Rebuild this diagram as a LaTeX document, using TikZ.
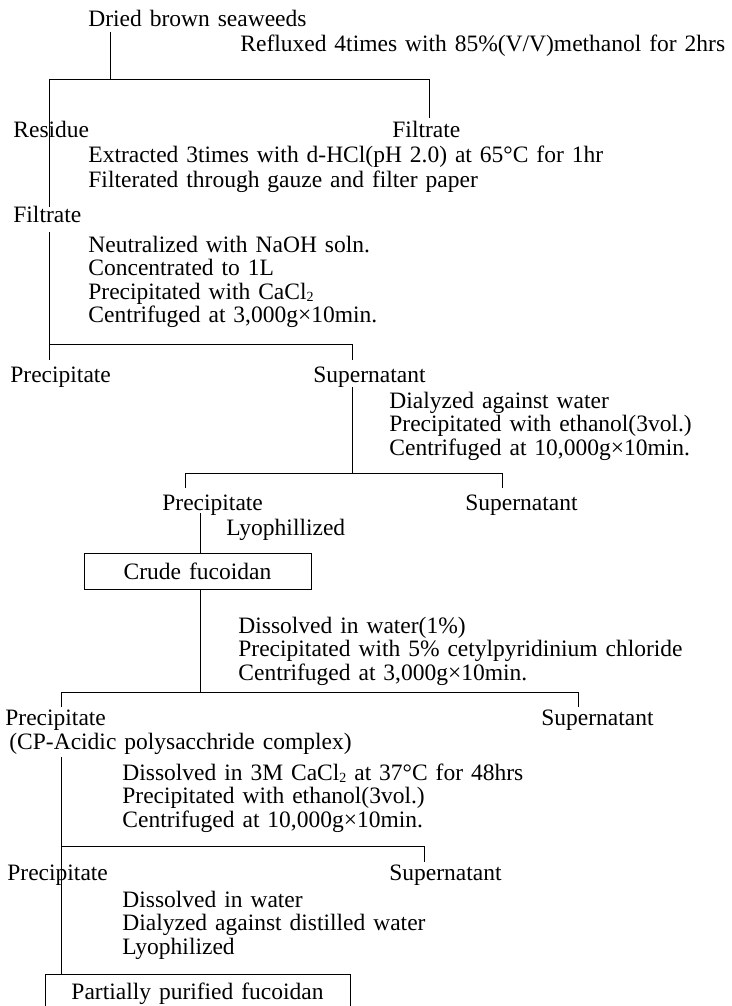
\documentclass[tikz,border=0pt]{standalone}
\usepackage{fontspec}
\setmainfont{Liberation Serif}[WordSpace=1.35]
\newcommand{\lowtwo}{\raisebox{-.25ex}{\fontsize{14}{14}\selectfont 2}}
\begin{document}
\begin{tikzpicture}[x=1pt, y=-1pt, line width=.8pt,
        every node/.style={inner sep=0pt, font=\fontsize{23.5}{23.5}\selectfont},
        txt/.style={anchor=base west},
        fbox/.style={draw, line width=.8pt, minimum width=227pt, minimum height=36pt}]
    \useasboundingbox (0, 0) rectangle (731, 1006);
    \clip (0, 0) rectangle (731, 1006);
    \node[txt] (dried) at (88, 27) {Dried brown seaweeds};
    \node[txt] (reflux) at (240, 52) {Refluxed 4times with 85\%(V/V)methanol for 2hrs};
    \node[txt] (residue) at (13, 138) {Residue};
    \node[txt] (filtA) at (392, 138) {Filtrate};
    \coordinate (topA) at (110, 32);
    \coordinate (midA) at (110, 79);
    \coordinate (lA) at (49, 79);
    \coordinate (rA) at (429, 79);
    \draw (topA) -- (midA);
    \draw (lA) -- (rA) -- (429, 118);
    \draw (lA) -- (49, 207);
    \foreach \t [count=\i] in {{Extracted 3times with d-HCl(pH 2.0) at 65°C for 1hr},
            {Filterated through gauze and filter paper}}
        \node[txt] (a-\i) at (88, {138+24.5*\i}) {\t};
    \node[txt] (filtB) at (13, 222) {Filtrate};
    \foreach \t [count=\i] in {{Neutralized with NaOH soln.}, {Concentrated to 1L},
            {Precipitated with CaCl\lowtwo}, {Centrifuged at 3,000g×10min.}}
        \node[txt] (b-\i) at (88, {228.5+23.6*\i}) {\t};
    \coordinate (lB) at (49, 344);
    \coordinate (rB) at (352, 344);
    \draw (49, 232) -- (lB) -- (rB) -- (352, 360);
    \draw (lB) -- (49, 360);
    \node[txt] (precA) at (10, 382) {Precipitate};
    \node[txt] (supA) at (313, 382) {Supernatant};
    \foreach \t [count=\i] in {{Dialyzed against water}, {Precipitated with ethanol(3vol.)},
            {Centrifuged at 10,000g×10min.}}
        \node[txt] (c-\i) at (389, {384.5+23.5*\i}) {\t};
    \coordinate (mC) at (352, 473);
    \coordinate (lC) at (185, 473);
    \coordinate (rC) at (502, 473);
    \draw (352, 387) -- (mC);
    \draw (185, 488) -- (lC) -- (rC) -- (502, 488);
    \node[txt] (precB) at (162, 510) {Precipitate};
    \node[txt] (supB) at (465, 510) {Supernatant};
    \node[txt] (lyoA) at (226, 535) {Lyophillized};
    \node[fbox] (crude) at (197.5, 571) {Crude fucoidan};
    \draw (200, 513) -- (crude.north -| 200, 0);
    \foreach \t [count=\i] in {{Dissolved in water(1\%)}, {Precipitated with 5\% cetylpyridinium chloride},
            {Centrifuged at 3,000g×10min.}}
        \node[txt] (d-\i) at (238, {609.5+23.5*\i}) {\t};
    \coordinate (mD) at (200, 692);
    \coordinate (lD) at (61, 692);
    \coordinate (rD) at (578, 692);
    \draw (crude.south -| mD) -- (mD);
    \draw (61, 707) -- (lD) -- (rD) -- (578, 707);
    \node[txt] (precC) at (5, 725) {Precipitate};
    \node[txt] (supC) at (541, 725) {Supernatant};
    \node[txt] (cp) at (9, 749) {(CP-Acidic polysacchride complex)};
    \foreach \t [count=\i] in {{Dissolved in 3M CaCl\lowtwo{} at 37°C for 48hrs},
            {Precipitated with ethanol(3vol.)}, {Centrifuged at 10,000g×10min.}}
        \node[txt] (e-\i) at (122, {756.5+23.5*\i}) {\t};
    \coordinate (lE) at (61, 846);
    \coordinate (rE) at (424, 846);
    \draw (61, 757) -- (lE) -- (rE) -- (424, 862);
    \node[txt] (precD) at (7, 880) {Precipitate};
    \node[txt] (supD) at (389, 880) {Supernatant};
    \foreach \t [count=\i] in {{Dissolved in water}, {Dialyzed against distilled water}, {Lyophilized}}
        \node[txt] (f-\i) at (122, {883.5+23.5*\i}) {\t};
    \node[fbox, anchor=north, minimum width=305pt, text height=16pt, text depth=30pt, inner ysep=9pt]
        (partial) at (197.5, 974) {Partially purified fucoidan};
    \draw (lE) -- (partial.north -| lE);
\end{tikzpicture}
\end{document}
